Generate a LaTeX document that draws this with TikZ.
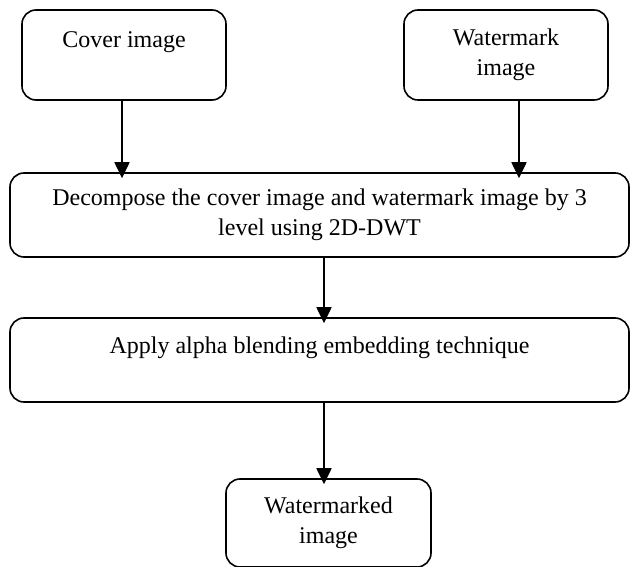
\documentclass[tikz,border=0pt]{standalone}
\usepackage{fontspec}
\setmainfont{Liberation Serif}
\usetikzlibrary{arrows.meta,calc}
\begin{document}
\begin{tikzpicture}[x=1pt,y=-1pt,
  box/.style={draw=black,line width=1.6pt,rounded corners=14pt,align=center,
    inner sep=0pt,font=\fontsize{24}{30}\selectfont},
  arr/.style={line width=1.8pt,shorten >=-6pt,-{Triangle[length=16pt,width=15pt]}}]
\useasboundingbox (0,0) rectangle (630,567);
\node[box,minimum width=204pt,minimum height=90pt] (cov) at (124,55) {Cover image\\\mbox{}};
\node[box,minimum width=204pt,minimum height=90pt] (wm) at (506,55) {Watermark\\image};
\node[box,minimum width=619pt,minimum height=84pt] (dec) at (319.5,215) {Decompose the cover image and watermark image by 3\\level using 2D-DWT};
\node[box,minimum width=619pt,minimum height=84pt] (app) at (319.5,360) {Apply alpha blending embedding technique\\\mbox{}};
\node[box,minimum width=205pt,minimum height=88pt] (wmd) at (328.5,523) {Watermarked\\image};
\draw[arr] ([xshift=-2pt]cov.south) -- ([xshift=-2pt]cov.south |- dec.north);
\draw[arr] ([xshift=13pt]wm.south) -- ([xshift=13pt]wm.south |- dec.north);
\draw[arr] ([xshift=4.5pt]dec.south) -- ([xshift=4.5pt]dec.south |- app.north);
\draw[arr] ([xshift=4.5pt]app.south) -- ([xshift=4.5pt]app.south |- wmd.north);
\end{tikzpicture}
\end{document}
